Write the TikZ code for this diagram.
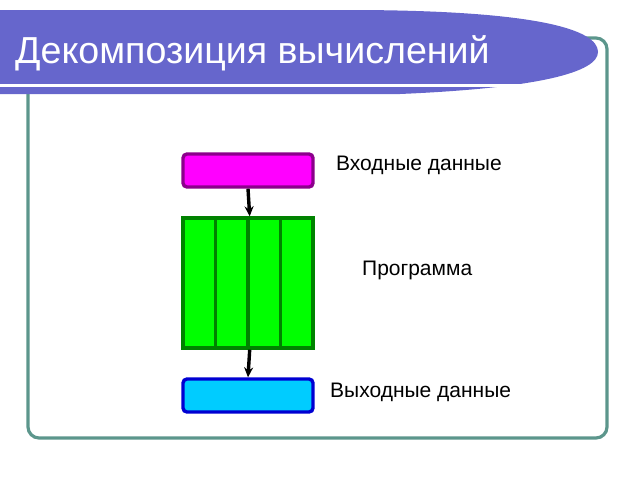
\documentclass[tikz,border=0pt]{standalone}
\usepackage{fontspec}
\setmainfont{Liberation Sans}
\usetikzlibrary{arrows.meta}
\definecolor{bandblue}{RGB}{102,102,204}
\definecolor{framegreen}{RGB}{92,150,140}
\definecolor{inmagenta}{RGB}{255,0,255}
\definecolor{indark}{RGB}{140,0,140}
\definecolor{proggreen}{RGB}{0,255,0}
\definecolor{progdark}{RGB}{0,130,0}
\definecolor{outcyan}{RGB}{0,204,255}
\definecolor{outdark}{RGB}{0,0,210}
\tikzset{
  databox/.style={draw, line width=3.4pt, rounded corners=4pt,
    minimum width=130pt, minimum height=33pt, inner sep=0pt},
  cell/.style={draw=progdark, fill=proggreen, line width=3.4pt,
    minimum width=32.5pt, minimum height=130pt, inner sep=0pt},
  flow/.style={line width=3.4pt, -{Stealth[length=10pt,width=9pt]}},
  caption/.style={font=\fontsize{21}{24}\selectfont, anchor=west, inner sep=0pt}
}
\begin{document}
\begin{tikzpicture}[x=1pt,y=-1pt]
\useasboundingbox (0,0) rectangle (640,480);
\draw[framegreen, line width=3.2pt, rounded corners=11pt]
  (28,38) rectangle (607,438);
\fill[bandblue] (0,10) -- (360,10)
  .. controls (540,11) and (598,30) .. (598,52)
  .. controls (598,72) and (540,88) .. (400,94) -- (0,94) -- cycle;
\fill[white] (0,84) rectangle (520,86.5);
\node[anchor=base west, inner sep=0pt, text=white,
  font=\fontsize{37.6}{42}\selectfont] (title) at (15,63)
  {Декомпозиция вычислений};
\node[databox, draw=indark, fill=inmagenta] (inbox) at (248,170.5) {};
\foreach \i in {1,...,4}
  \node[cell] (prog\i) at (183+32.5*\i-16.25,283) {};
\node[databox, draw=outdark, fill=outcyan] (outbox) at (248,395.5) {};
\draw[flow] (inbox.south) -- (prog2.north east);
\draw[flow] (prog2.south east) -- (outbox.north);
\node[caption] (inlabel) at (336,165) {Входные данные};
\node[caption] (proglabel) at (362,270) {Программа};
\node[caption] (outlabel) at (330,392) {Выходные данные};
\end{tikzpicture}
\end{document}
